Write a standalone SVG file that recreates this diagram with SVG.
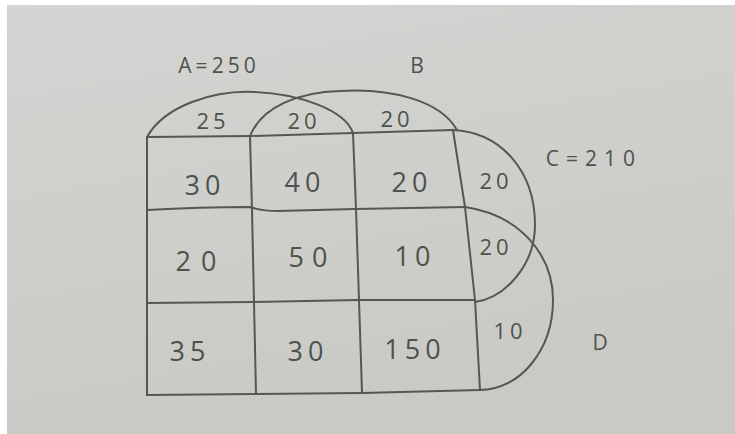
<svg xmlns="http://www.w3.org/2000/svg" width="735" height="434" viewBox="0 0 735 434">
<defs>
<linearGradient id="paper" x1="0" y1="0" x2="0.3" y2="1">
<stop offset="0" stop-color="#d4d5d2"/>
<stop offset="1" stop-color="#c9cac6"/>
</linearGradient>
</defs>
<style>
.ln{fill:none;stroke:#535853;stroke-width:2;stroke-linecap:round;stroke-linejoin:round}
.t{font-family:"Open Sans","Liberation Sans",sans-serif;fill:#4d524d;text-anchor:middle;dominant-baseline:central}
.big{font-size:27px;letter-spacing:5px}
.mid{font-size:22px;letter-spacing:4px}
.lab{font-size:21px;letter-spacing:4px}
</style>
<rect width="735" height="434" fill="#ffffff"/>
<rect x="7" y="5" width="728" height="429" fill="url(#paper)"/>
<g id="connectors">
<path class="ln" d="M147,137 L250,136 L353,133 L453,130"/>
<path class="ln" d="M147,210 Q200,207 250,207 Q262,211 278,211 L355,209 L465,207"/>
<path class="ln" d="M147,303 L252,302 L358,300 L475,300"/>
<path class="ln" d="M147,395 L256,394 L362,393 L480,390"/>
<path class="ln" d="M147,137 L147,395"/>
<path class="ln" d="M250,136 L252,210 L254,302 L256,394"/>
<path class="ln" d="M353,133 L356,209 L359,300 L362,393"/>
<path class="ln" d="M453,130 L465,207 L475,300 L480,390"/>
</g>
<g id="setA">
<path class="ln" d="M147,137 C165,105 215,90 255,92 C300,94 345,110 353,133"/>
<text class="t lab" x="219" y="65">A=250</text>
</g>
<g id="setB">
<path class="ln" d="M250,136 C262,106 300,92 340,91 C390,88 440,100 457,130"/>
<text class="t lab" x="419" y="65">B</text>
</g>
<g id="setC">
<path class="ln" d="M453,130 C500,132 535,170 535,225 C535,265 505,298 475,302"/>
<text class="t lab" x="594" y="158" style="letter-spacing:7px">C=210</text>
</g>
<g id="setD">
<path class="ln" d="M465,207 C520,215 553,255 553,300 C553,350 520,390 480,390"/>
<text class="t lab" x="602" y="342">D</text>
</g>
<g id="labels">
<text class="t mid" x="213" y="120">25</text>
<text class="t mid" x="304" y="120">20</text>
<text class="t mid" x="397" y="118">20</text>
<text class="t mid" x="496" y="180">20</text>
<text class="t mid" x="496" y="246">20</text>
<text class="t mid" x="510" y="330">10</text>
<text class="t big" x="205" y="184">30</text>
<text class="t big" x="305" y="181">40</text>
<text class="t big" x="412" y="181">20</text>
<text class="t big" x="201" y="260" style="letter-spacing:10px">20</text>
<text class="t big" x="312" y="256" style="letter-spacing:8px">50</text>
<text class="t big" x="415" y="255">10</text>
<text class="t big" x="190" y="350">35</text>
<text class="t big" x="308" y="350">30</text>
<text class="t big" x="415" y="348">150</text>
</g>
</svg>
